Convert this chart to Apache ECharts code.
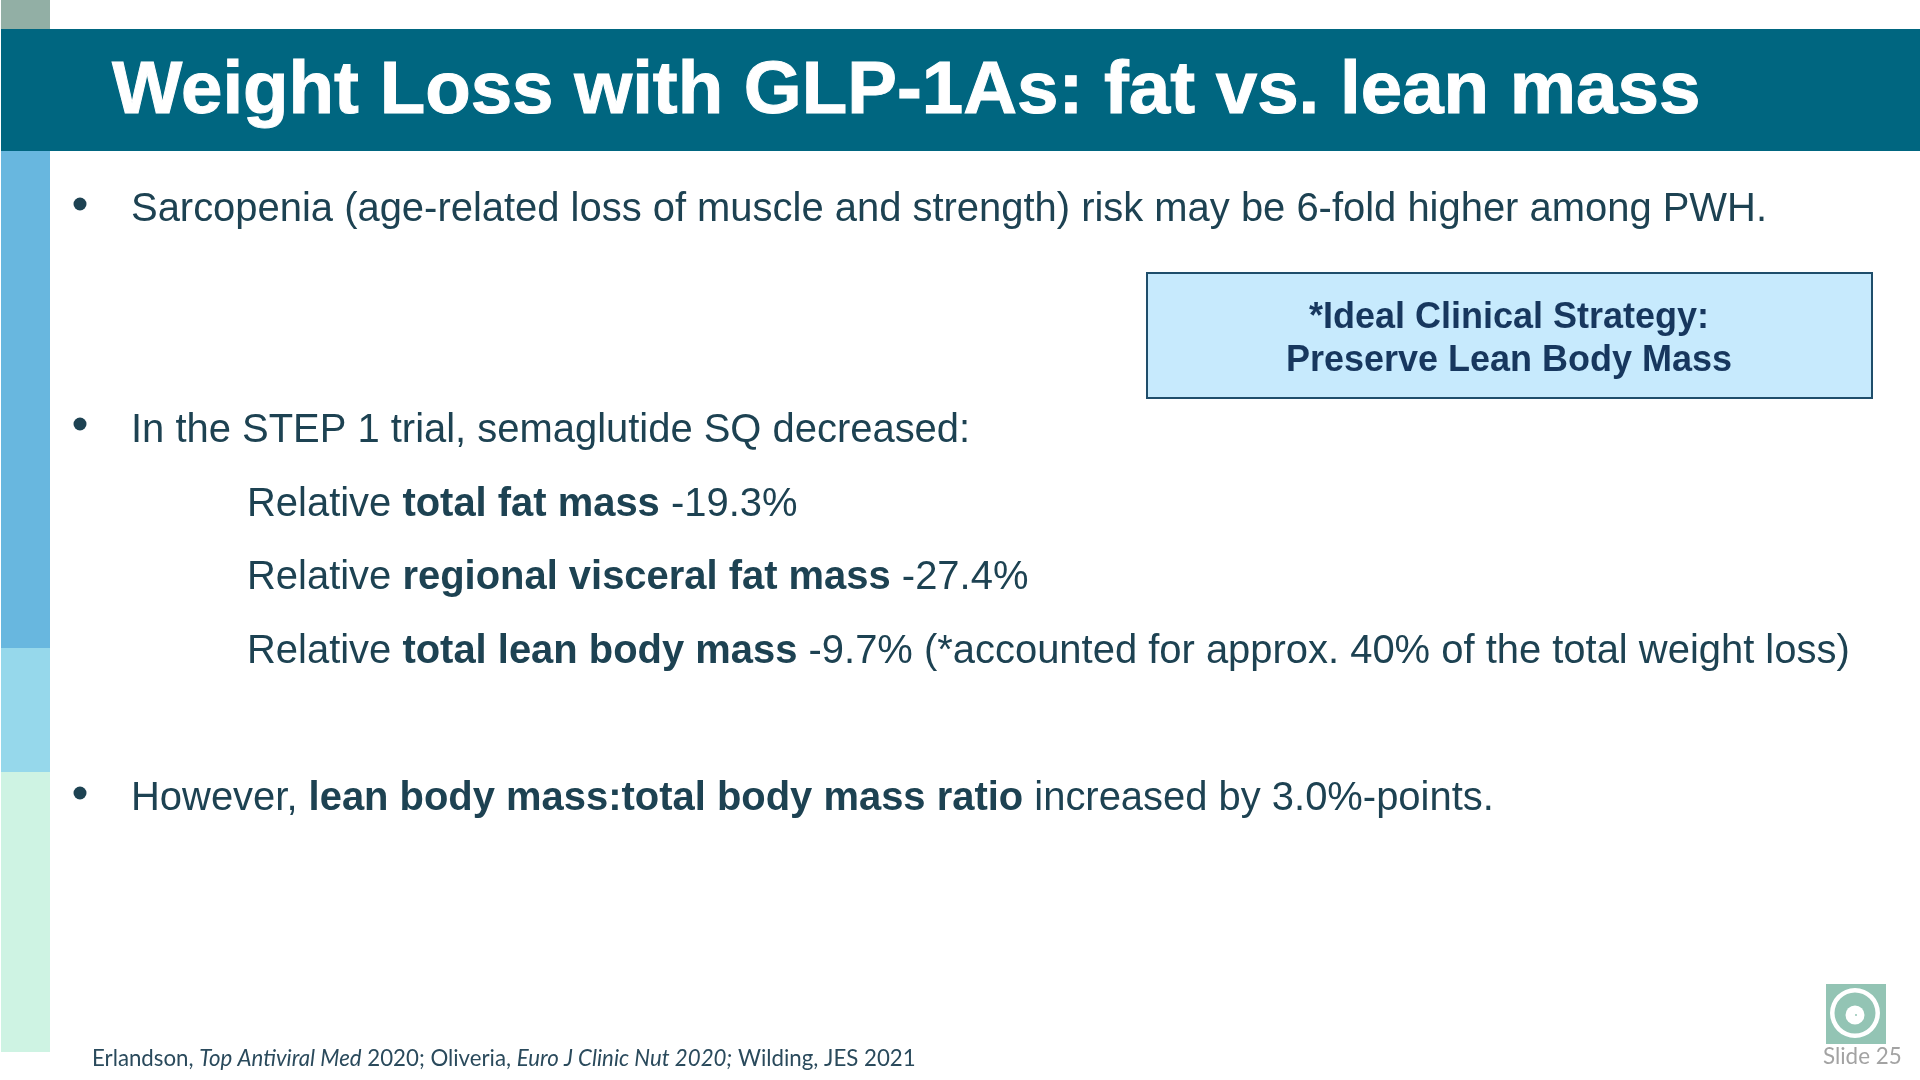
<!DOCTYPE html>
<html>
<head>
<meta charset="utf-8">
<title>Weight Loss with GLP-1As</title>
<script src="https://cdn.jsdelivr.net/npm/echarts@6/dist/echarts.min.js"></script>
<style>
  html, body { margin: 0; padding: 0; background: #fff; }
  #main { width: 1920px; height: 1080px; }
</style>
</head>
<body>
<div id="main"></div>
<script>
var titleText = "Weight Loss with GLP-1As: fat vs. lean mass";
var bulletLines = [
  "{r|Sarcopenia (age-related loss of muscle and strength) risk may be 6-fold higher among PWH.}",
  "{r|In the STEP 1 trial, semaglutide SQ decreased:}",
  "{r|However, }{b|lean body mass:total body mass ratio}{r| increased by 3.0%-points.}"
];
var subLines = [
  "{r|Relative }{b|total fat mass}{r| -19.3%}",
  "{r|Relative }{b|regional visceral fat mass}{r| -27.4%}",
  "{r|Relative }{b|total lean body mass}{r| -9.7% (*accounted for approx. 40% of the total weight loss)}"
];
var boxLines = ["*Ideal Clinical Strategy:", "Preserve Lean Body Mass"];
var footnote = "{r|Erlandson, }{i|Top Antiviral Med}{r| 2020; Oliveria, }{i|Euro J Clinic Nut 2020;}{r| Wilding, JES 2021}";
var slideLabel = "Slide 25";

var bulletY = [210, 431, 799];
var bulletDotY = [204, 424, 793];
var subY = [505, 578, 652];
var bodyColor = "#1d4252";
var bodyFont = "Liberation Sans";

var bodyRich = {
  r: { fontFamily: bodyFont, fontSize: 39.95, fill: bodyColor, color: bodyColor },
  b: { fontFamily: bodyFont, fontSize: 39.95, fontWeight: "bold", fill: bodyColor, color: bodyColor }
};

function rect(x, y, w, h, fill, extra) {
  return {
    type: "rect",
    shape: { x: x, y: y, width: w, height: h },
    style: Object.assign({ fill: fill }, extra || {})
  };
}

function richLine(text, x, y, rich) {
  return {
    type: "text",
    style: { text: text, x: x, y: y, rich: rich, verticalAlign: "middle", align: "left" }
  };
}

var elements = [
  // side strip
  rect(1, 0, 49, 29, "#92afa5"),
  rect(1, 150, 49, 498, "#68b7df"),
  rect(1, 648, 49, 124, "#96d8eb"),
  rect(1, 772, 49, 280, "#cef3e3"),
  // title bar
  rect(1, 29, 1919, 122, "#006680"),
  {
    type: "text",
    style: {
      text: titleText, x: 112, y: 92, fill: "#fff", stroke: "#fff", lineWidth: 1,
      font: "bold 74.5px 'Liberation Sans'", verticalAlign: "middle"
    }
  },
  // callout
  rect(1147, 273, 725, 125, "#c7eafd", { stroke: "#1f4e6b", lineWidth: 2 })
];

bulletLines.forEach(function (t, i) {
  elements.push({ type: "circle", shape: { cx: 80, cy: bulletDotY[i], r: 6.5 }, style: { fill: bodyColor } });
  elements.push(richLine(t, 131, bulletY[i], bodyRich));
});

subLines.forEach(function (t, i) {
  elements.push(richLine(t, 247, subY[i], bodyRich));
});

boxLines.forEach(function (t, i) {
  elements.push({
    type: "text",
    style: {
      text: t, x: 1509, y: 318.5 + i * 43, fill: "#17375e",
      font: "bold 36px 'Liberation Sans'", align: "center", verticalAlign: "middle"
    }
  });
});

// footnote
elements.push(richLine(footnote, 92, 1059, {
  r: { fontFamily: "Lato", fontSize: 22.25, fill: "#2a4a5c", color: "#2a4a5c" },
  i: { fontFamily: "Lato", fontSize: 22.25, fontStyle: "italic", fill: "#2a4a5c", color: "#2a4a5c" }
}));

// logo
elements.push(rect(1826, 984, 60, 60, "#93c4b4"));
elements.push({ type: "ring", shape: { cx: 1855, cy: 1013, r: 25, r0: 20.5 }, style: { fill: "#fff" } });
elements.push({ type: "circle", shape: { cx: 1855, cy: 1015, r: 9.5 }, style: { fill: "#fff" } });
elements.push({ type: "circle", shape: { cx: 1856, cy: 1015, r: 1 }, style: { fill: "#93c4b4" } });
elements.push({
  type: "text",
  style: {
    text: slideLabel, x: 1823, y: 1057, fill: "#a3a3a3",
    font: "22.4px Lato", verticalAlign: "middle"
  }
});

var myChart = echarts.init(document.getElementById("main"));
myChart.setOption({
  backgroundColor: "#fff",
  animation: false,
  graphic: { elements: elements }
});
</script>
</body>
</html>
